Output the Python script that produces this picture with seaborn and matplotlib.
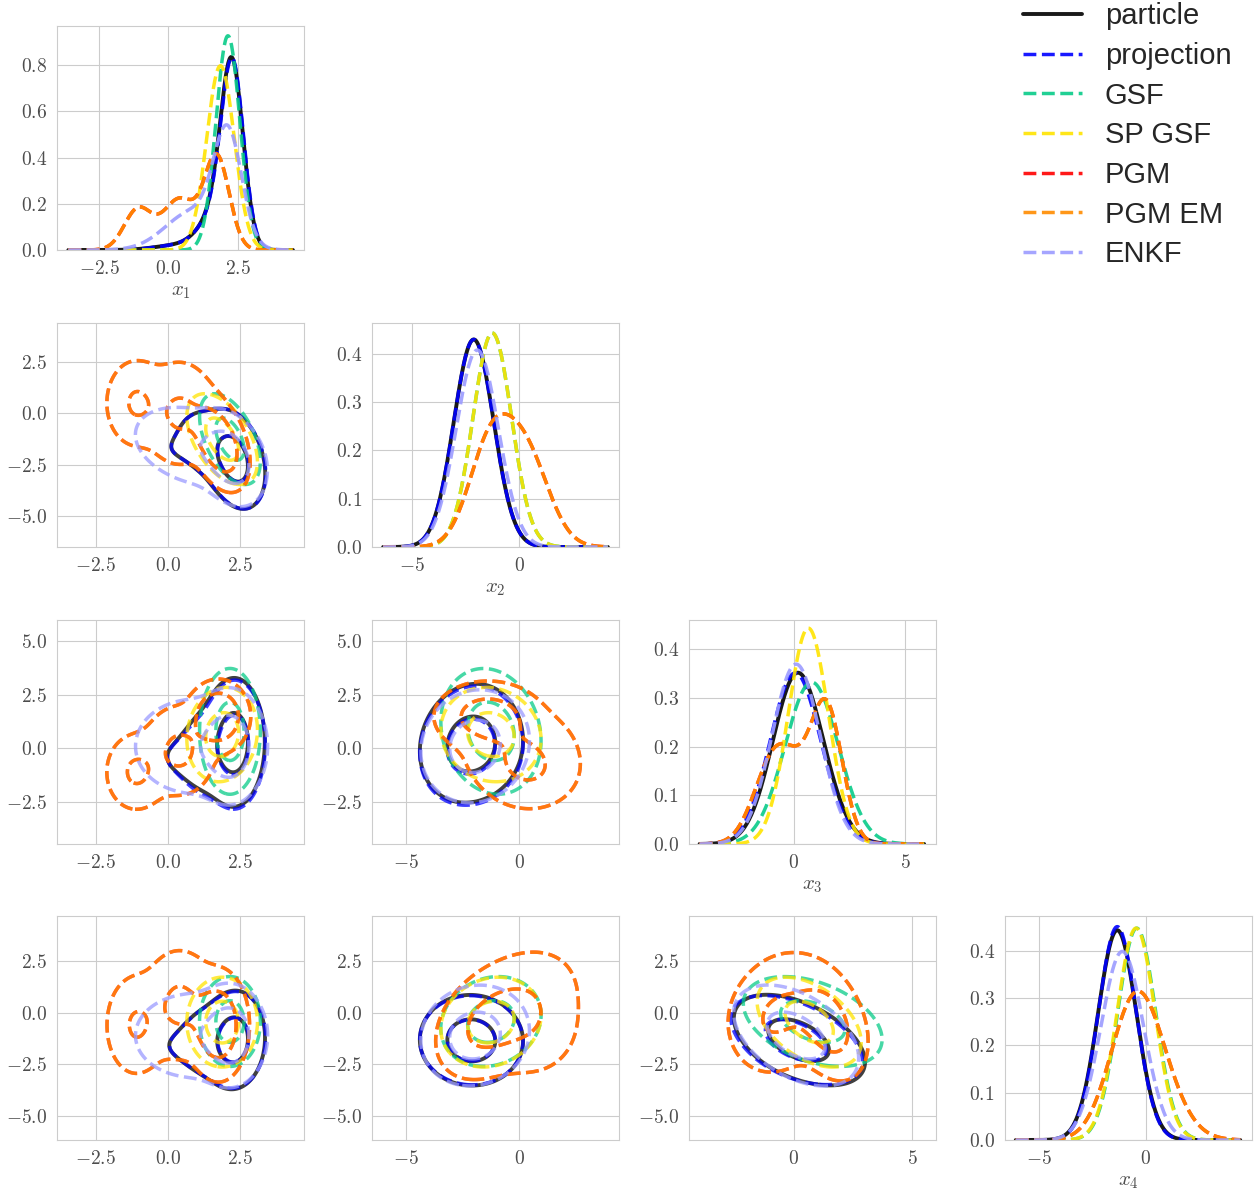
import numpy as np
import matplotlib
matplotlib.use("Agg")
import matplotlib.pyplot as plt
import matplotlib.ticker as ticker
from matplotlib.lines import Line2D
import seaborn as sns

methods = ['particle', 'projection', 'GSF', 'SP GSF', 'PGM', 'PGM EM', 'ENKF']
colors = ['#000000', '#0000ff', '#09cb88', '#ffe400', '#ff0000', '#ff8c00', '#9b9bff']
styles = ['-', '--', '--', '--', '--', '--', '--']
var_labels = ['$x_1$', '$x_2$', '$x_3$', '$x_4$']

# each filter's posterior, read off the picture as a small gaussian mixture:
# weights, means (x1..x4), std devs (x1..x4),
# correlations in pair order x1x2, x1x3, x1x4, x2x3, x2x4, x3x4
particle_w = [0.75, 0.21, 0.04]
particle_mu = [[2.3, -2.25, 0.3, -1.3], [1.7, -1.7, 0.0, -1.4], [0.3, -1.7, -0.4, -1.6]]
particle_sd = [[0.4, 0.9, 1.15, 0.9], [0.6, 0.9, 1.05, 0.9], [0.8, 0.8, 0.9, 0.8]]
particle_rho = [[-0.3, 0.0, 0.05, 0.15, 0.0, -0.5], [-0.4, 0.1, 0.0, 0.1, 0.0, -0.5], [0.0, 0.0, 0.0, 0.0, 0.0, -0.3]]

projection_w = [0.75, 0.21, 0.04]
projection_mu = [[2.32, -2.25, 0.2, -1.3], [1.7, -1.7, -0.2, -1.4], [0.3, -1.7, -0.4, -1.6]]
projection_sd = [[0.4, 0.9, 1.15, 0.88], [0.6, 0.9, 1.05, 0.9], [0.8, 0.8, 0.9, 0.8]]
projection_rho = [[-0.3, 0.0, 0.05, 0.15, 0.0, -0.5], [-0.4, 0.1, 0.0, 0.1, 0.0, -0.5], [0.0, 0.0, 0.0, 0.0, 0.0, -0.3]]

gsf_w = [1.0]
gsf_mu = [[2.15, -1.25, 0.8, -0.42]]
gsf_sd = [[0.43, 0.9, 1.2, 0.89]]
gsf_rho = [[-0.5, 0.0, 0.0, -0.15, 0.15, -0.4]]

spgsf_w = [1.0]
spgsf_mu = [[1.88, -1.25, 0.65, -0.45]]
spgsf_sd = [[0.5, 0.9, 0.9, 0.89]]
spgsf_rho = [[-0.5, 0.1, 0.0, -0.1, 0.15, -0.45]]

pgm_w = [0.45, 0.33, 0.22]
pgm_mu = [[1.75, -1.4, 1.5, -0.6], [0.4, 0.0, -0.1, 0.4], [-1.1, 0.5, -1.1, -0.6]]
pgm_sd = [[0.45, 1.0, 0.7, 1.15], [0.6, 1.2, 1.0, 1.25], [0.5, 1.0, 0.85, 1.15]]
pgm_rho = [[-0.4, 0.0, 0.0, 0.0, 0.3, -0.3], [0.0, 0.0, 0.0, 0.0, 0.3, 0.0], [0.0, 0.0, 0.0, 0.0, 0.0, 0.0]]

pgm_em_w = [0.45, 0.33, 0.22]
pgm_em_mu = [[1.75, -1.4, 1.5, -0.6], [0.4, 0.0, -0.1, 0.4], [-1.1, 0.5, -1.1, -0.6]]
pgm_em_sd = [[0.45, 1.0, 0.7, 1.15], [0.6, 1.2, 1.0, 1.25], [0.5, 1.0, 0.85, 1.15]]
pgm_em_rho = [[-0.4, 0.0, 0.0, 0.0, 0.3, -0.3], [0.0, 0.0, 0.0, 0.0, 0.3, 0.0], [0.0, 0.0, 0.0, 0.0, 0.0, 0.0]]

enkf_w = [0.58, 0.42]
enkf_mu = [[2.15, -2.2, 0.1, -1.1], [0.9, -1.6, 0.1, -1.1]]
enkf_sd = [[0.5, 0.93, 1.08, 1.0], [1.0, 0.93, 1.08, 1.0]]
enkf_rho = [[-0.3, 0.0, 0.0, 0.1, 0.1, -0.45], [-0.3, 0.0, 0.0, 0.1, 0.1, -0.45]]

mixtures = [
    (particle_w, particle_mu, particle_sd, particle_rho),
    (projection_w, projection_mu, projection_sd, projection_rho),
    (gsf_w, gsf_mu, gsf_sd, gsf_rho),
    (spgsf_w, spgsf_mu, spgsf_sd, spgsf_rho),
    (pgm_w, pgm_mu, pgm_sd, pgm_rho),
    (pgm_em_w, pgm_em_mu, pgm_em_sd, pgm_em_rho),
    (enkf_w, enkf_mu, enkf_sd, enkf_rho),
]

PAIRS = [(0, 1), (0, 2), (0, 3), (1, 2), (1, 3), (2, 3)]

# axis ranges as in the picture
diag_xlim = [(-4.03, 4.9), (-6.87, 4.67), (-4.74, 6.37), (-6.64, 4.98)]
diag_span = [(-3.62, 4.5), (-6.35, 4.15), (-4.24, 5.86), (-6.11, 4.45)]
diag_ytop = [0.97, 0.464, 0.46, 0.474]
pair_lim = [(-3.85, 4.72), (-6.48, 4.38), (-4.46, 6.0), (-6.17, 4.7)]
diag_xstep = [2.5, 5, 5, 5]
diag_ystep = [0.2, 0.1, 0.1, 0.1]
pair_xstep = [2.5, 5, 5]


def marginal_1d(mix, k, x):
    w, mu, sd, rho = mix
    dens = np.zeros_like(x)
    for c in range(len(w)):
        s = sd[c][k]
        dens += w[c] * np.exp(-0.5 * ((x - mu[c][k]) / s) ** 2) / (s * np.sqrt(2 * np.pi))
    return dens


def marginal_2d(mix, i, j, X, Y):
    '''density of (x_j, x_i) on the grid, x_j along X and x_i along Y'''
    w, mu, sd, rho = mix
    dens = np.zeros_like(X)
    for c in range(len(w)):
        r = rho[c][PAIRS.index((min(i, j), max(i, j)))]
        sx, sy = sd[c][j], sd[c][i]
        zx = (X - mu[c][j]) / sx
        zy = (Y - mu[c][i]) / sy
        q = (zx ** 2 - 2 * r * zx * zy + zy ** 2) / (1 - r ** 2)
        dens += w[c] * np.exp(-0.5 * q) / (2 * np.pi * sx * sy * np.sqrt(1 - r ** 2))
    return dens


def iso_levels(Z, props):
    '''same iso-proportion rule as seaborn kdeplot'''
    vals = np.sort(Z.ravel())[::-1]
    cum = np.cumsum(vals) / vals.sum()
    idx = np.searchsorted(cum, 1 - np.asarray(props))
    return np.take(vals, idx, mode='clip')


def tex_fmt(decimals):
    # latex-looking tick labels (computer modern digits and minus)
    def f(v, pos):
        s = f'{v:.{decimals}f}'
        if s.startswith('-') and float(s) == 0:
            s = s[1:]
        return '$\\mathrm{' + s + '}$'
    return ticker.FuncFormatter(f)


sns.set_style('whitegrid')
plt.rcParams['font.family'] = 'serif'
plt.rcParams['font.serif'] = ['cmr10', 'DejaVu Serif']
plt.rcParams['mathtext.fontset'] = 'cm'
plt.rcParams['xtick.labelsize'] = 14
plt.rcParams['ytick.labelsize'] = 14
plt.rcParams['xtick.labelcolor'] = '0.3'
plt.rcParams['ytick.labelcolor'] = '0.3'
plt.rcParams['axes.labelsize'] = 15
plt.rcParams['axes.labelcolor'] = '0.3'

fig = plt.figure(figsize=(12.58, 11.94), dpi=100)
W, H = 1258, 1194
col_left = [57, 372, 688.5, 1004.5]
row_top = [26, 323, 620, 916]
ax_w, ax_h = 247, 224

for i in range(4):
    for j in range(i + 1):
        ax = fig.add_axes([col_left[j] / W, 1 - (row_top[i] + ax_h) / H, ax_w / W, ax_h / H])
        if i == j:
            xs = np.linspace(diag_span[i][0], diag_span[i][1], 400)
            for m in range(len(methods)):
                dens = marginal_1d(mixtures[m], i, xs)
                sns.lineplot(x=xs, y=dens, ax=ax, color=colors[m], linestyle=styles[m],
                             lw=2.8 if m == 0 else 2.5, alpha=0.9)
            ax.set_xlim(diag_xlim[i])
            ax.set_ylim(0, diag_ytop[i])
            ax.xaxis.set_major_locator(ticker.MultipleLocator(diag_xstep[i]))
            ax.yaxis.set_major_locator(ticker.MultipleLocator(diag_ystep[i]))
            ax.xaxis.set_major_formatter(tex_fmt(1 if diag_xstep[i] < 5 else 0))
            ax.yaxis.set_major_formatter(tex_fmt(1))
            ax.set_xlabel(var_labels[i])
            ax.set_ylabel('')
        else:
            gx = np.linspace(pair_lim[j][0] - 2, pair_lim[j][1] + 2, 260)
            gy = np.linspace(pair_lim[i][0] - 2, pair_lim[i][1] + 2, 260)
            X, Y = np.meshgrid(gx, gy)
            for m in range(len(methods)):
                Z = marginal_2d(mixtures[m], i, j, X, Y)
                lv = np.sort(iso_levels(Z, [0.05, 0.525]))
                ax.contour(X, Y, Z, levels=lv, colors=[colors[m]], linestyles=styles[m],
                           linewidths=2.8 if m == 0 else 2.5, alpha=0.75)
            ax.set_xlim(pair_lim[j])
            ax.set_ylim(pair_lim[i])
            ax.xaxis.set_major_locator(ticker.MultipleLocator(pair_xstep[j]))
            ax.yaxis.set_major_locator(ticker.MultipleLocator(2.5))
            ax.xaxis.set_major_formatter(tex_fmt(1 if pair_xstep[j] < 5 else 0))
            ax.yaxis.set_major_formatter(tex_fmt(1))

handles = [Line2D([], [], color=colors[m], linestyle=styles[m], lw=2.8 if m == 0 else 2.5, alpha=0.9)
           for m in range(len(methods))]
fig.legend(handles, methods, loc='upper left', bbox_to_anchor=(997 / W, 1 + 24 / H),
           frameon=False, prop={'family': 'Liberation Sans', 'size': 21},
           handlelength=2.0, labelspacing=0.4)

fig.savefig('out.png', dpi=100)
